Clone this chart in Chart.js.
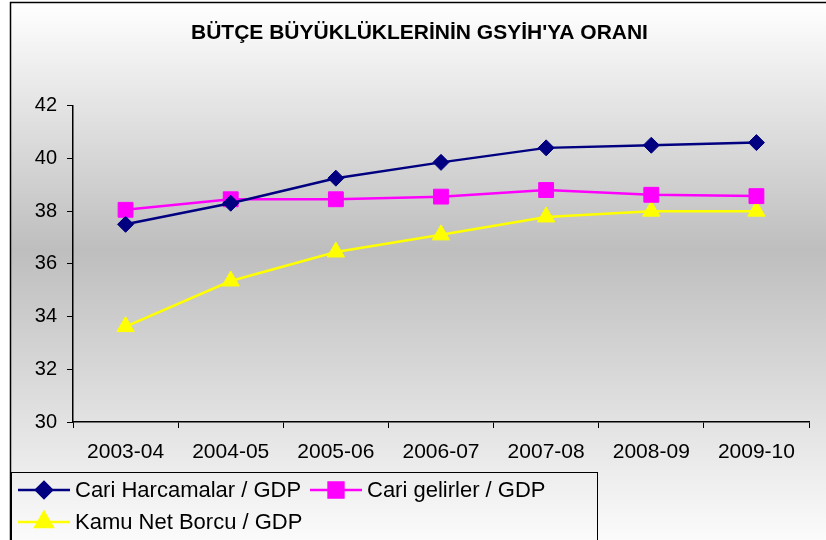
<!DOCTYPE html>
<html lang="tr">
<head>
    <meta charset="UTF-8">
    <title>Bütçe büyüklükleri</title>
    <script src="https://cdn.jsdelivr.net/npm/chart.js"></script>
    <style>
        html, body { margin: 0; padding: 0; background: #fff; }
        #wrap { width: 826px; height: 540px; position: relative; }
    </style>
</head>
<body>
<div id="wrap"><canvas id="chart"></canvas></div>

<script>
    // data
    var years = ['2003-04', '2004-05', '2005-06', '2006-07', '2007-08', '2008-09', '2009-10']
    var cariHarcamalar = [37.5, 38.3, 39.25, 39.85, 40.4, 40.5, 40.6]
    var cariGelirler = [38.05, 38.45, 38.45, 38.55, 38.8, 38.62, 38.57]
    var kamuNetBorcu = [33.62, 35.35, 36.45, 37.1, 37.78, 38.0, 38.0]
    var yTicks = [30, 32, 34, 36, 38, 40, 42]

    var font = "'Liberation Sans', Arial, sans-serif"

    // gradient background + frame
    var backdrop = {
        id: 'backdrop',
        beforeDraw(chart) {
            var ctx = chart.ctx
            var w = chart.width, h = chart.height
            ctx.save()
            var g = ctx.createLinearGradient(0, 3, 0, h)
            g.addColorStop(0, '#ffffff')
            g.addColorStop(0.46, '#bebebe')
            g.addColorStop(1, '#fbfbfb')
            ctx.fillStyle = g
            ctx.fillRect(11, 3, w - 11, h - 3)
            ctx.strokeStyle = '#000'
            ctx.lineWidth = 1.5
            ctx.beginPath()
            ctx.moveTo(10.5, h)
            ctx.lineTo(10.5, 2.5)
            ctx.lineTo(w, 2.5)
            ctx.stroke()
            ctx.restore()
        }
    }

    // excel style legend box: line with marker in the middle
    var boxLegend = {
        id: 'boxLegend',
        afterDraw(chart) {
            var ctx = chart.ctx
            var slots = [[18, 490], [310, 490], [18, 522]]
            ctx.save()
            ctx.strokeStyle = '#000'
            ctx.lineWidth = 1
            ctx.strokeRect(11.5, 472.5, 586, 80)
            ctx.font = '22px ' + font
            ctx.textBaseline = 'middle'
            chart.data.datasets.forEach(function (ds, i) {
                var x = slots[i][0], y = slots[i][1]
                ctx.strokeStyle = ds.borderColor
                ctx.lineWidth = 2.5
                ctx.beginPath()
                ctx.moveTo(x, y)
                ctx.lineTo(x + 52, y)
                ctx.stroke()
                ctx.fillStyle = ds.pointBackgroundColor
                Chart.helpers.drawPoint(ctx, {
                    pointStyle: ds.pointStyle, radius: ds.pointRadius, rotation: 0, borderWidth: 1
                }, x + 26, y)
                ctx.fillStyle = '#000'
                ctx.fillText(ds.label, x + 57, y + 1)
            })
            ctx.restore()
        }
    }

    var canvas = document.getElementById('chart')
    var chart = new Chart(canvas, {
        type: 'line',
        data: {
            labels: years,
            datasets: [{
                label: 'Cari Harcamalar / GDP',
                data: cariHarcamalar,
                borderColor: '#000080',
                pointBackgroundColor: '#000080',
                borderWidth: 2.5,
                pointStyle: 'rectRot',
                pointRadius: 8,
                pointBorderWidth: 1
            }, {
                label: 'Cari gelirler / GDP',
                data: cariGelirler,
                borderColor: '#ff00ff',
                pointBackgroundColor: '#ff00ff',
                borderWidth: 2.5,
                pointStyle: 'rect',
                pointRadius: 10.5,
                pointBorderWidth: 1
            }, {
                label: 'Kamu Net Borcu / GDP',
                data: kamuNetBorcu,
                borderColor: '#ffff00',
                pointBackgroundColor: '#ffff00',
                borderWidth: 2.5,
                pointStyle: 'triangle',
                pointRadius: 10,
                pointBorderWidth: 1
            }]
        },
        options: {
            responsive: true,
            maintainAspectRatio: false,
            animation: false,
            layout: { padding: { left: 30, right: 17, top: 0, bottom: 68 } },
            plugins: {
                legend: { display: false },
                tooltip: { enabled: false },
                title: {
                    display: true,
                    text: "BÜTÇE BÜYÜKLÜKLERİNİN GSYİH'YA ORANI",
                    color: '#000',
                    font: { family: font, size: 21, weight: 'bold' },
                    padding: { top: 20.4, bottom: 60.1 }
                }
            },
            scales: {
                x: {
                    offset: true,
                    grid: { offset: true, drawOnChartArea: false, tickLength: 6, color: '#000', tickWidth: 1 },
                    border: { color: '#000', width: 1.5 },
                    ticks: { color: '#000', font: { family: font, size: 21 }, padding: 12, maxRotation: 0 },
                    afterFit(scale) { scale.height = 50 }
                },
                y: {
                    min: 30,
                    max: 42,
                    afterBuildTicks(scale) { scale.ticks = yTicks.map(function (v) { return { value: v } }) },
                    grid: { drawOnChartArea: false, tickLength: 6, color: '#000', tickWidth: 1 },
                    border: { color: '#000', width: 1.5 },
                    ticks: { color: '#000', font: { family: font, size: 20 }, padding: 10 },
                    afterFit(scale) { scale.width = 43 }
                }
            }
        },
        plugins: [backdrop, boxLegend]
    })
</script>
</body>
</html>
